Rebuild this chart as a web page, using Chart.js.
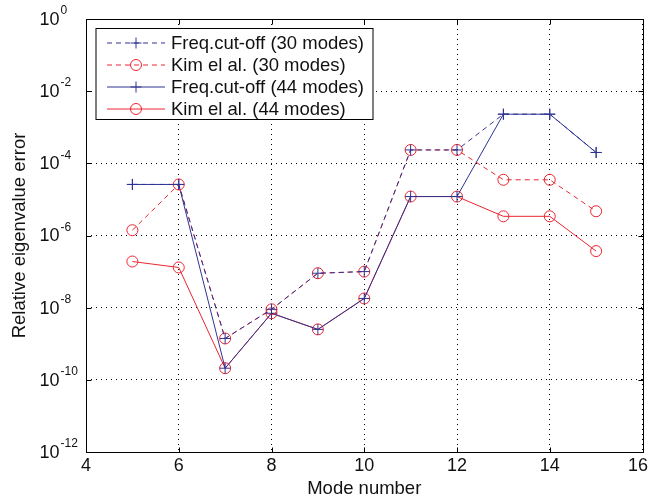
<!DOCTYPE html>
<html>
<head>
<meta charset="utf-8">
<script src="https://cdn.jsdelivr.net/npm/chart.js@4.4.0/dist/chart.umd.min.js"></script>
<style>
  html, body { margin: 0; padding: 0; background: #fff; }
</style>
</head>
<body>
<canvas id="myChart" width="649" height="500"></canvas>
<script>
// mode numbers on the x axis
const modes = [5, 6, 7, 8, 9, 10, 11, 12, 13, 14, 15];
// relative eigenvalue errors
const freq30 = [2.6e-5, 2.6e-5, 1.4e-9, 9e-9, 9e-8, 1.0e-7, 2.35e-4, 2.35e-4, 2.3e-3, 2.3e-3, 2.0e-4];
const kim30  = [1.4e-6, 2.6e-5, 1.4e-9, 9e-9, 9e-8, 1.0e-7, 2.35e-4, 2.35e-4, 3.5e-5, 3.5e-5, 4.7e-6];
const freq44 = [2.6e-5, 2.6e-5, 2.1e-10, 7e-9, 2.5e-9, 1.8e-8, 1.2e-5, 1.2e-5, 2.3e-3, 2.3e-3, 2.0e-4];
const kim44  = [1.9e-7, 1.3e-7, 2.1e-10, 7e-9, 2.5e-9, 1.8e-8, 1.2e-5, 1.2e-5, 3.4e-6, 3.4e-6, 3.7e-7];
const seriesNames = ['Freq.cut-off (30 modes)', 'Kim el al. (30 modes)', 'Freq.cut-off (44 modes)', 'Kim el al. (44 modes)'];
const xTicks = [4, 6, 8, 10, 12, 14, 16];
const yTicks = [1e-12, 1e-10, 1e-8, 1e-6, 1e-4, 1e-2, 1];

const BLUE = '#2f3491';
const RED = '#ec2530';
const INK = '#111';
const FONT = '"Liberation Sans", Arial, Helvetica, sans-serif';

const pts = vals => modes.map((m, i) => ({x: m, y: vals[i]}));

function makeSet(label, vals, color, style, dashed) {
  return {
    label,
    data: pts(vals),
    borderColor: color,
    backgroundColor: 'rgba(0,0,0,0)',
    borderWidth: 1,
    borderDash: dashed ? [5, 4] : [],
    pointStyle: style,
    pointRadius: style === 'cross' ? 5.5 : 5.5,
    pointBorderColor: color,
    pointBackgroundColor: 'rgba(0,0,0,0)',
    pointBorderWidth: 1,
    tension: 0
  };
}

const data = {
  datasets: [
    makeSet(seriesNames[0], freq30, BLUE, 'cross', true),
    makeSet(seriesNames[1], kim30, RED, 'circle', true),
    makeSet(seriesNames[2], freq44, BLUE, 'cross', false),
    makeSet(seriesNames[3], kim44, RED, 'circle', false)
  ]
};

// box, inward tick marks, tick labels (10 with raised exponent) and the legend inside the axes
const frame = {
  id: 'frame',
  afterDraw(chart) {
    const {ctx, chartArea: a, scales} = chart;
    ctx.save();
    ctx.setLineDash([]);
    ctx.strokeStyle = '#000';
    ctx.lineWidth = 1;
    const L = Math.round(a.left) + 0.5, R = Math.round(a.right) + 0.5;
    const T = Math.round(a.top) + 0.5, B = Math.round(a.bottom) + 0.5;
    ctx.strokeRect(L, T, R - L, B - T);
    ctx.beginPath();
    xTicks.forEach(v => {
      const px = Math.round(scales.x.getPixelForValue(v)) + 0.5;
      ctx.moveTo(px, B); ctx.lineTo(px, B - 5);
      ctx.moveTo(px, T); ctx.lineTo(px, T + 5);
    });
    yTicks.forEach(v => {
      const py = Math.round(scales.y.getPixelForValue(v)) + 0.5;
      ctx.moveTo(L, py); ctx.lineTo(L + 5, py);
      ctx.moveTo(R, py); ctx.lineTo(R - 5, py);
    });
    ctx.stroke();

    // tick labels
    ctx.fillStyle = INK;
    ctx.textBaseline = 'middle';
    ctx.font = '18px ' + FONT;
    ctx.textAlign = 'center';
    xTicks.forEach(v => {
      const txt = String(v);
      const w = ctx.measureText(txt).width;
      let px = scales.x.getPixelForValue(v);
      px = Math.min(px, chart.width - w / 2 - 1);
      ctx.fillText(txt, px, B + 14);
    });
    yTicks.forEach(v => {
      const py = scales.y.getPixelForValue(v);
      const e = Math.round(Math.log10(v));
      ctx.font = '18px ' + FONT;
      ctx.textAlign = 'right';
      ctx.fillText('10', L - 27, py + 1);
      ctx.font = '12px ' + FONT;
      ctx.textAlign = 'left';
      ctx.fillText(e === 0 ? '0' : '-' + Math.abs(e), L - 26, py - 8);
    });

    // legend
    const bx = L + 9.5, by = T + 9, bw = 277, bh = 91;
    ctx.fillStyle = '#fff';
    ctx.fillRect(bx, by, bw, bh);
    ctx.strokeStyle = '#000';
    ctx.strokeRect(bx, by, bw, bh);
    ctx.font = '18.5px ' + FONT;
    ctx.textAlign = 'left';
    ctx.textBaseline = 'middle';
    chart.data.datasets.forEach((ds, i) => {
      const ry = by + 14.5 + i * 22;
      ctx.strokeStyle = ds.borderColor;
      ctx.setLineDash(ds.borderDash);
      ctx.beginPath();
      ctx.moveTo(bx + 11, ry); ctx.lineTo(bx + 69, ry);
      ctx.stroke();
      ctx.setLineDash([]);
      ctx.fillStyle = 'rgba(0,0,0,0)';
      Chart.helpers.drawPoint(ctx, {pointStyle: ds.pointStyle, radius: 5.5, rotation: 0, borderWidth: 1}, bx + 40, ry);
      ctx.fillStyle = INK;
      ctx.fillText(ds.label, bx + 75, ry + 1);
    });
    ctx.restore();
  }
};

const ctx = document.getElementById('myChart').getContext('2d');
const chart = new Chart(ctx, {
  type: 'line',
  data,
  plugins: [frame],
  options: {
    responsive: false,
    animation: false,
    layout: {padding: {top: 19, right: 5, left: 9, bottom: 0}},
    plugins: {legend: {display: false}, tooltip: {enabled: false}},
    scales: {
      x: {
        type: 'linear',
        min: 4, max: 16,
        afterBuildTicks: s => { s.ticks = xTicks.map(v => ({value: v})); },
        afterFit: s => { s.height = 48; s.paddingLeft = 0; s.paddingRight = 0; },
        ticks: {display: false},
        grid: {color: '#000', lineWidth: 1, drawTicks: false},
        border: {display: false, dash: [1, 4]},
        title: {display: true, text: 'Mode number', color: INK, font: {family: FONT, size: 18.5}, padding: 0}
      },
      y: {
        type: 'logarithmic',
        min: 1e-12, max: 1,
        afterBuildTicks: s => { s.ticks = yTicks.map(v => ({value: v})); },
        afterFit: s => { s.width = 77; s.paddingTop = 0; s.paddingBottom = 0; },
        ticks: {display: false},
        grid: {color: '#000', lineWidth: 1, drawTicks: false},
        border: {display: false, dash: [1, 4]},
        title: {display: true, text: 'Relative eigenvalue error', color: INK, font: {family: FONT, size: 18.5}, padding: 0}
      }
    }
  }
});
</script>
</body>
</html>
